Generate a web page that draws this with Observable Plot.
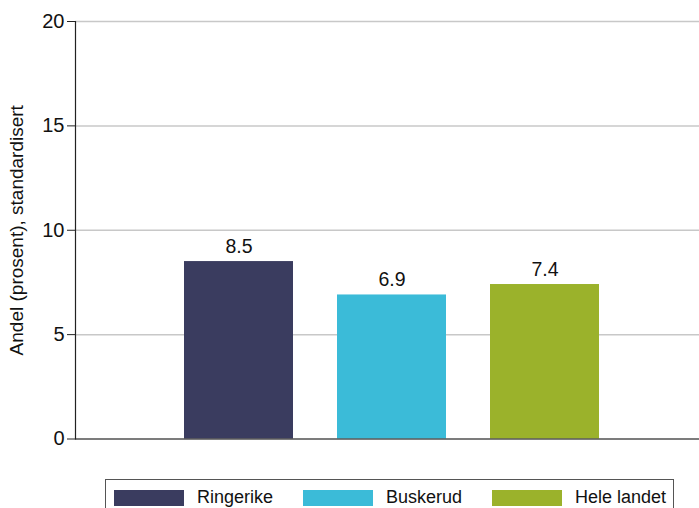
<!DOCTYPE html>
<html>
<head>
<meta charset="utf-8">
<script src="https://cdn.jsdelivr.net/npm/d3@7"></script>
<script src="https://cdn.jsdelivr.net/npm/@observablehq/plot@0.6"></script>
<style>
  html, body { margin: 0; padding: 0; background: #fff; overflow: hidden; }
  body { font-family: "Liberation Sans", Arial, sans-serif; width: 699px; height: 508px; }
  #legend { position: absolute; left: 105px; top: 479px; width: 569px; height: 40px; border: 1px solid #555; box-sizing: border-box; }
  .item { position: absolute; top: 7px; display: flex; align-items: center; font-size: 18px; color: #111; }
  .sw { width: 70px; height: 16px; margin-right: 13px; }
</style>
</head>
<body>
<div id="chart"></div>
<div id="legend"></div>
<script>
const categories = ["Ringerike", "Buskerud", "Hele landet"];
const values = [8.5, 6.9, 7.4];
const colors = ["#3a3c5f", "#3bbbd8", "#9bb22b"];
const yTicks = [0, 5, 10, 15, 20];
const yLabel = "Andel (prosent), standardisert";

const data = categories.map((c, i) => ({category: c, value: values[i]}));

const chart = Plot.plot({
  width: 699,
  height: 470,
  marginLeft: 75,
  marginRight: 0,
  marginTop: 21,
  marginBottom: 31.5,
  style: {fontFamily: "Liberation Sans, Arial, sans-serif", fontSize: "18px", color: "#111", background: "#fff"},
  x: {domain: categories, range: [75, 708], paddingInner: 0.2876, paddingOuter: 0.712, axis: null},
  y: {domain: [0, 20], ticks: yTicks},
  color: {domain: categories, range: colors},
  marks: [
    Plot.gridY(yTicks, {stroke: "#c8c8c8", strokeOpacity: 1, strokeWidth: 1.5}),
    Plot.barY(data, {x: "category", y: "value", fill: "category"}),
    Plot.ruleY([0], {stroke: "#222", strokeWidth: 1.2}),
    Plot.frame({anchor: "left", stroke: "#222", strokeWidth: 1.2}),
    Plot.axisY(yTicks, {tickSize: 8, tickPadding: 3, fontSize: 20, label: null, stroke: "#222"}),
    Plot.axisY({ticks: [], tickSize: 0, label: yLabel, labelAnchor: "center", labelArrow: "none", labelOffset: 66, fontSize: 19}),
    Plot.text(data, {x: "category", y: "value", text: d => d.value.toFixed(1), lineAnchor: "bottom", dy: -9, fontSize: 19.5, fill: "#111"})
  ]
});
document.getElementById("chart").appendChild(chart);

const legend = document.getElementById("legend");
const lefts = [8, 197, 386];
categories.forEach((c, i) => {
  const it = document.createElement("div");
  it.className = "item";
  it.style.left = lefts[i] + "px";
  const sw = document.createElement("div");
  sw.className = "sw";
  sw.style.background = colors[i];
  it.appendChild(sw);
  const t = document.createElement("span");
  t.textContent = c;
  it.appendChild(t);
  legend.appendChild(it);
});
</script>
</body>
</html>
